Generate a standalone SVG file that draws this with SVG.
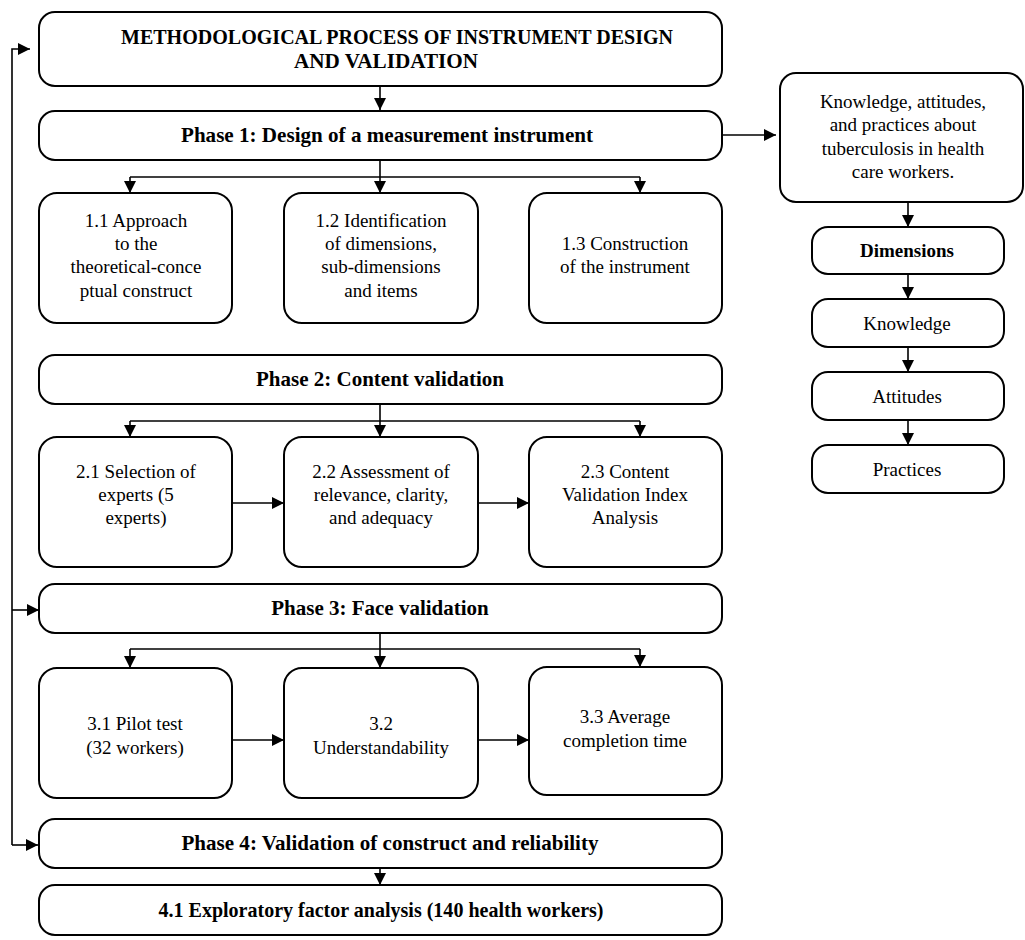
<svg xmlns="http://www.w3.org/2000/svg" width="1025" height="940" viewBox="0 0 1025 940">
<style>
.box{fill:#fff;stroke:#000;stroke-width:2}
.t{font-family:"Liberation Serif","Times New Roman",serif;font-size:19px;fill:#000;text-anchor:middle}
.b{font-family:"Liberation Serif","Times New Roman",serif;font-size:21px;font-weight:bold;fill:#000;text-anchor:middle}
.c{fill:none;stroke:#000;stroke-width:1.6}
</style>
<defs>
<marker id="a" viewBox="0 0 12 12" refX="12" refY="6" markerWidth="12" markerHeight="12" markerUnits="userSpaceOnUse" orient="auto"><path d="M0,0 L12,6 L0,12 z" fill="#000"/></marker>
</defs>
<g id="connectors">
<path class="c" d="M380,86 V110" marker-end="url(#a)"/>
<path class="c" d="M722,135 H776" marker-end="url(#a)"/>
<path class="c" d="M380,160 V193" marker-end="url(#a)"/>
<path class="c" d="M130,177 H640"/>
<path class="c" d="M130,177 V193" marker-end="url(#a)"/>
<path class="c" d="M640,177 V193" marker-end="url(#a)"/>
<path class="c" d="M380,404 V437" marker-end="url(#a)"/>
<path class="c" d="M130,421 H640"/>
<path class="c" d="M130,421 V437" marker-end="url(#a)"/>
<path class="c" d="M640,421 V437" marker-end="url(#a)"/>
<path class="c" d="M232,503 H284" marker-end="url(#a)"/>
<path class="c" d="M478,503 H529" marker-end="url(#a)"/>
<path class="c" d="M380,633 V668" marker-end="url(#a)"/>
<path class="c" d="M130,649 H640"/>
<path class="c" d="M130,649 V668" marker-end="url(#a)"/>
<path class="c" d="M640,649 V667" marker-end="url(#a)"/>
<path class="c" d="M232,740 H284" marker-end="url(#a)"/>
<path class="c" d="M478,740 H529" marker-end="url(#a)"/>
<path class="c" d="M380,868 V885" marker-end="url(#a)"/>
<path class="c" d="M12,845 V49 H30" marker-end="url(#a)"/>
<path class="c" d="M12,610 H39" marker-end="url(#a)"/>
<path class="c" d="M12,845 H38" marker-end="url(#a)"/>
<path class="c" d="M908,202 V227" marker-end="url(#a)"/>
<path class="c" d="M908,274 V299" marker-end="url(#a)"/>
<path class="c" d="M908,347 V372" marker-end="url(#a)"/>
<path class="c" d="M908,420 V445" marker-end="url(#a)"/>
</g>
<g id="title">
<rect class="box" x="39" y="12" width="683" height="74" rx="16"/>
<text class="b" x="397" y="44" textLength="552" lengthAdjust="spacingAndGlyphs">METHODOLOGICAL PROCESS OF INSTRUMENT DESIGN</text>
<text class="b" x="386" y="68" textLength="184" lengthAdjust="spacingAndGlyphs">AND VALIDATION</text>
</g>
<g id="phase1">
<rect class="box" x="39" y="111" width="683" height="49" rx="16"/>
<text class="b" x="387" y="142" textLength="412" lengthAdjust="spacingAndGlyphs">Phase 1: Design of a measurement instrument</text>
</g>
<g id="n11">
<rect class="box" x="39" y="193" width="193" height="130" rx="18"/>
<text class="t" x="136" y="227">1.1 Approach</text>
<text class="t" x="136" y="250">to the</text>
<text class="t" x="136" y="273">theoretical-conce</text>
<text class="t" x="136" y="297">ptual construct</text>
</g>
<g id="n12">
<rect class="box" x="284" y="193" width="194" height="130" rx="18"/>
<text class="t" x="381" y="227">1.2 Identification</text>
<text class="t" x="381" y="250">of dimensions,</text>
<text class="t" x="381" y="273">sub-dimensions</text>
<text class="t" x="381" y="297">and items</text>
</g>
<g id="n13">
<rect class="box" x="529" y="193" width="193" height="130" rx="18"/>
<text class="t" x="625" y="250">1.3 Construction</text>
<text class="t" x="625" y="273">of the instrument</text>
</g>
<g id="phase2">
<rect class="box" x="39" y="355" width="683" height="49" rx="16"/>
<text class="b" x="380" y="386">Phase 2: Content validation</text>
</g>
<g id="n21">
<rect class="box" x="39" y="437" width="193" height="130" rx="18"/>
<text class="t" x="136" y="478">2.1 Selection of</text>
<text class="t" x="136" y="501">experts (5</text>
<text class="t" x="136" y="524">experts)</text>
</g>
<g id="n22">
<rect class="box" x="284" y="437" width="194" height="130" rx="18"/>
<text class="t" x="381" y="478">2.2 Assessment of</text>
<text class="t" x="381" y="501">relevance, clarity,</text>
<text class="t" x="381" y="524">and adequacy</text>
</g>
<g id="n23">
<rect class="box" x="529" y="437" width="193" height="130" rx="18"/>
<text class="t" x="625" y="478">2.3 Content</text>
<text class="t" x="625" y="501">Validation Index</text>
<text class="t" x="625" y="524">Analysis</text>
</g>
<g id="phase3">
<rect class="box" x="39" y="584" width="683" height="49" rx="16"/>
<text class="b" x="380" y="615">Phase 3: Face validation</text>
</g>
<g id="n31">
<rect class="box" x="39" y="668" width="193" height="130" rx="18"/>
<text class="t" x="135" y="730">3.1 Pilot test</text>
<text class="t" x="135" y="754">(32 workers)</text>
</g>
<g id="n32">
<rect class="box" x="284" y="668" width="194" height="130" rx="18"/>
<text class="t" x="381" y="730">3.2</text>
<text class="t" x="381" y="754">Understandability</text>
</g>
<g id="n33">
<rect class="box" x="529" y="667" width="193" height="128" rx="18"/>
<text class="t" x="625" y="723">3.3 Average</text>
<text class="t" x="625" y="747">completion time</text>
</g>
<g id="phase4">
<rect class="box" x="39" y="819" width="683" height="49" rx="16"/>
<text class="b" x="390" y="850" textLength="417" lengthAdjust="spacingAndGlyphs">Phase 4: Validation of construct and reliability</text>
</g>
<g id="n41">
<rect class="box" x="39" y="885" width="683" height="50" rx="16"/>
<text class="b" x="381" y="917" textLength="445" lengthAdjust="spacingAndGlyphs">4.1 Exploratory factor analysis (140 health workers)</text>
</g>
<g id="kap">
<rect class="box" x="780" y="73" width="243" height="129" rx="16"/>
<text class="t" x="903" y="108">Knowledge, attitudes,</text>
<text class="t" x="903" y="131">and practices about</text>
<text class="t" x="903" y="155">tuberculosis in health</text>
<text class="t" x="903" y="178">care workers.</text>
</g>
<g id="dims">
<rect class="box" x="812" y="227" width="192" height="47" rx="16"/>
<text class="b" x="907" y="257" style="font-size:19px">Dimensions</text>
</g>
<g id="know">
<rect class="box" x="812" y="299" width="192" height="48" rx="16"/>
<text class="t" x="907" y="330">Knowledge</text>
</g>
<g id="att">
<rect class="box" x="812" y="372" width="192" height="48" rx="16"/>
<text class="t" x="907" y="403">Attitudes</text>
</g>
<g id="prac">
<rect class="box" x="812" y="445" width="192" height="48" rx="16"/>
<text class="t" x="907" y="476">Practices</text>
</g>
</svg>
